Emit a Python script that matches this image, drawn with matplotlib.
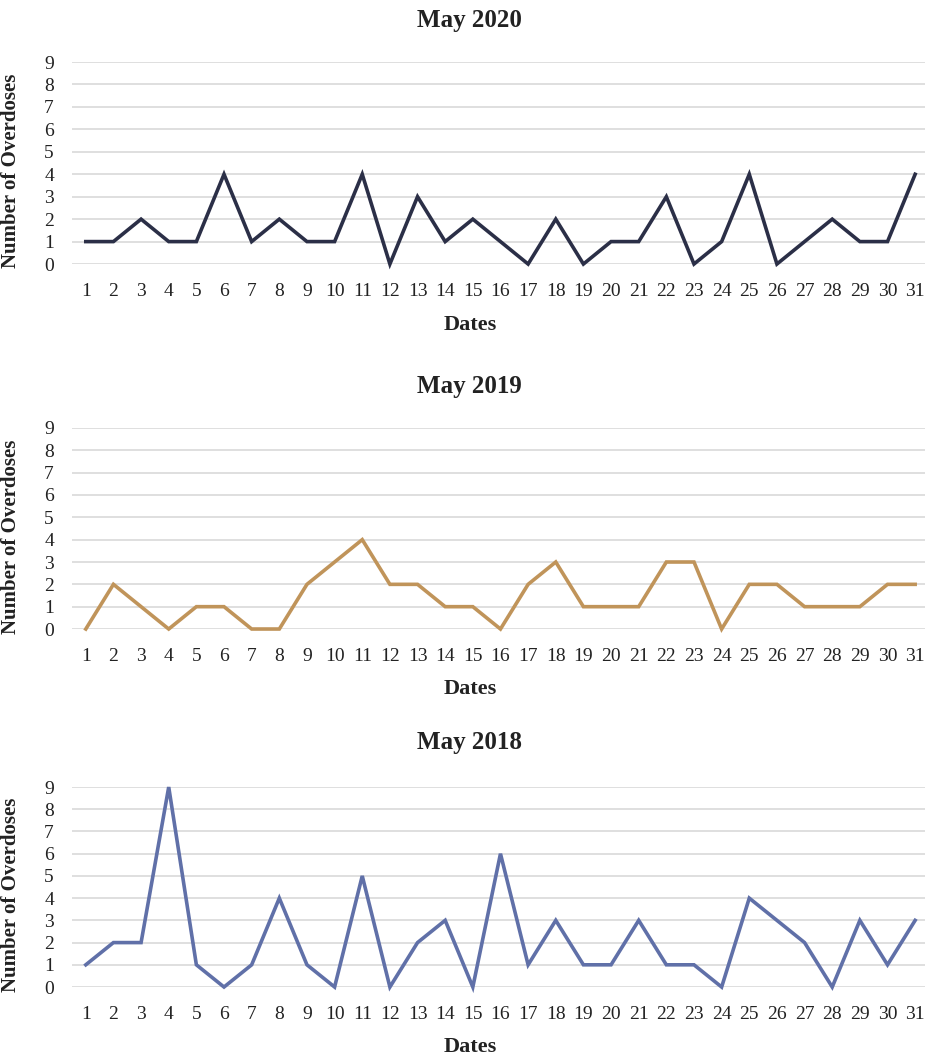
import matplotlib
matplotlib.use("Agg")
import matplotlib.pyplot as plt

plt.rcParams['font.family'] = ['Liberation Serif', 'DejaVu Serif']

# Daily overdose counts, May 1-31
dates = list(range(1, 32))
may_2020 = [1, 1, 2, 1, 1, 4, 1, 2, 1, 1, 4, 0, 3, 1, 2, 1, 0, 2, 0, 1, 1, 3, 0, 1, 4, 0, 1, 2, 1, 1, 4]
may_2019 = [0, 2, 1, 0, 1, 1, 0, 0, 2, 3, 4, 2, 2, 1, 1, 0, 2, 3, 1, 1, 1, 3, 3, 0, 2, 2, 1, 1, 1, 2, 2]
may_2018 = [1, 2, 2, 9, 1, 0, 1, 4, 1, 0, 5, 0, 2, 3, 0, 6, 1, 3, 1, 1, 3, 1, 1, 0, 4, 3, 2, 0, 3, 1, 3]

panels = [
    ("May 2020", may_2020, "#2b2f47"),
    ("May 2019", may_2019, "#c0945a"),
    ("May 2018", may_2018, "#6070a8"),
]

# axes boxes in figure fractions, and title y positions (pixels from top)
boxes = [(0.0778, 0.7502, 0.9265, 0.1911),
         (0.0778, 0.4049, 0.9265, 0.1902),
         (0.0778, 0.0662, 0.9265, 0.1892)]
title_y = [21, 386, 742]

fig = plt.figure(figsize=(9.25, 10.57), dpi=100)

for (title, values, color), box, ty in zip(panels, boxes, title_y):
    ax = fig.add_axes(box)
    ax.plot(dates, values, color=color, linewidth=2.6, clip_on=False,
            solid_joinstyle='miter', zorder=3)
    ax.set_xlim(0.5, 31.5)
    ax.set_ylim(0, 9)
    ax.set_xticks(dates)
    ax.set_yticks(range(0, 10))
    ax.grid(axis='y', color='#d9d9d9', linewidth=1.2)
    ax.set_axisbelow(True)
    for s in ax.spines.values():
        s.set_visible(False)
    ax.tick_params(length=0, labelsize=14, colors='#222222')
    ax.tick_params(axis='x', pad=14)
    ax.tick_params(axis='y', pad=13)
    ax.set_xlabel("Dates", fontsize=16, fontweight='bold', color='#222222')
    ax.xaxis.set_label_coords(0.465, -0.25)
    ax.set_ylabel("Number of Overdoses", fontsize=15, fontweight='bold', color='#222222')
    ax.yaxis.set_label_coords(-0.06, 0.46)
    fig.text(469 / 925, 1 - ty / 1057, title, ha='center', va='center',
             fontsize=18, fontweight='bold', color='#222222')

fig.savefig("out.png", dpi=100)
